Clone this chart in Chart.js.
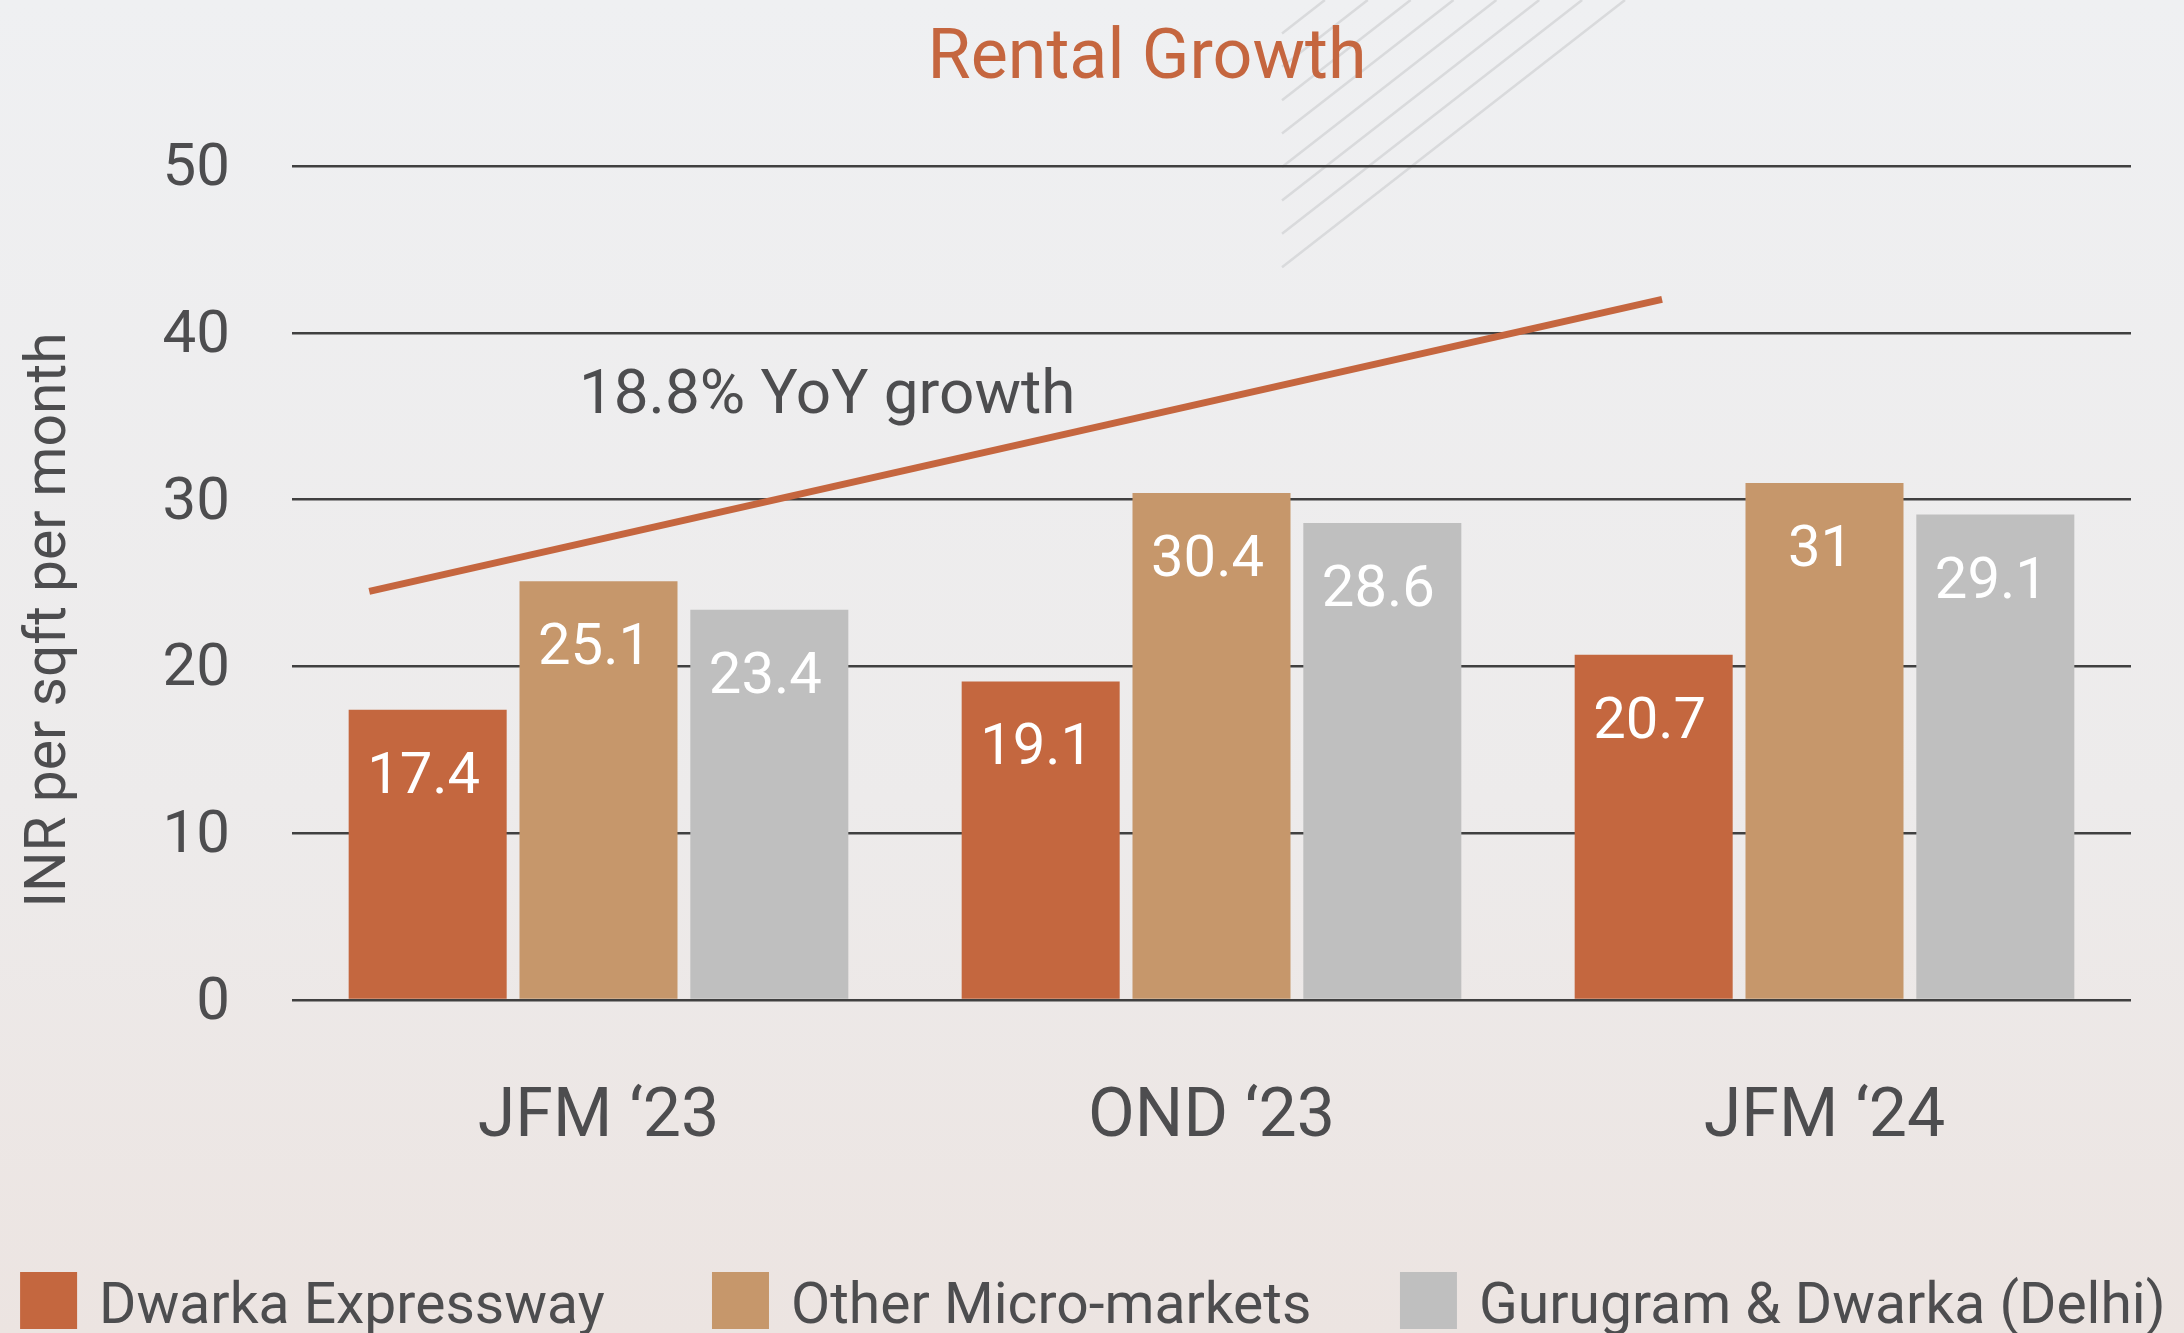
<!DOCTYPE html>
<html>
<head>
<meta charset="utf-8">
<title>Rental Growth</title>
<script src="https://cdn.jsdelivr.net/npm/chart.js@4.4.1/dist/chart.umd.min.js"></script>
<style>
  html, body { margin: 0; padding: 0; background: #EEEEEF; }
  #wrap { width: 2184px; height: 1333px; position: relative; overflow: hidden; }
  canvas { display: block; }
</style>
</head>
<body>
<div id="wrap"><canvas id="chart" width="2184" height="1333"></canvas></div>
<script>
// ---------------- data ----------------
const chartTitle = 'Rental Growth';
const yAxisTitle = 'INR per sqft per month';
const categories = ['JFM \u201823', 'OND \u201823', 'JFM \u201824'];
const seriesNames = ['Dwarka Expressway', 'Other Micro-markets', 'Gurugram & Dwarka (Delhi)'];
const dwarkaExpressway = [17.4, 19.1, 20.7];
const otherMicroMarkets = [25.1, 30.4, 31];
const gurugramDwarkaDelhi = [23.4, 28.6, 29.1];
const yTicks = [0, 10, 20, 30, 40, 50];
const trendX = [-0.374, 1.735];   // position along the category axis (category index units)
const trendY = [24.5, 42.0];
const trendLabel = '18.8% YoY growth';

// ---------------- styles ----------------
const FONT = 'Roboto';
const TEXT = '#4D4D4F';
const ACCENT = '#C5663F';
const barColors = ['#C4673F', '#C6976B', '#BFBFBF'];
Chart.defaults.font.family = FONT;

const seriesValues = [dwarkaExpressway, otherMicroMarkets, gurugramDwarkaDelhi];

const decorPlugin = {
  id: 'decor',
  beforeDraw(chart) {
    const { ctx, width, height } = chart;
    ctx.save();
    const g = ctx.createLinearGradient(0, 0, 0, height);
    g.addColorStop(0, '#EFF0F2');
    g.addColorStop(0.6, '#EDEBEB');
    g.addColorStop(1, '#ECE4E1');
    ctx.fillStyle = g;
    ctx.fillRect(0, 0, width, height);
    // decorative hatch near the title
    ctx.strokeStyle = '#D9DADC';
    ctx.lineWidth = 2.5;
    const x0 = width * 0.587;
    for (let k = 1; k <= 8; k++) {
      const y0 = 33.4 * k;
      ctx.beginPath();
      ctx.moveTo(x0, y0);
      ctx.lineTo(x0 + y0 / 0.779, 0);
      ctx.stroke();
    }
    // title
    ctx.fillStyle = ACCENT;
    ctx.font = '70px ' + FONT;
    ctx.textAlign = 'center';
    ctx.textBaseline = 'alphabetic';
    ctx.fillText(chartTitle, width * 0.5252, 78);
    // y axis title
    ctx.save();
    ctx.translate(65, 620);
    ctx.rotate(-Math.PI / 2);
    ctx.fillStyle = TEXT;
    ctx.font = '57px ' + FONT;
    ctx.textAlign = 'center';
    ctx.fillText(yAxisTitle, 0, 0);
    ctx.restore();
    ctx.restore();
  },
  afterDatasetsDraw(chart) {
    const { ctx } = chart;
    ctx.save();
    // value labels inside bars
    ctx.font = '58px ' + FONT;
    ctx.fillStyle = '#FFFFFF';
    ctx.textAlign = 'center';
    ctx.textBaseline = 'alphabetic';
    chart.data.datasets.forEach((ds, di) => {
      if (ds.type === 'line') return;
      const meta = chart.getDatasetMeta(di);
      meta.data.forEach((el, i) => {
        ctx.fillText(String(seriesValues[di][i]), el.x - 4, el.y + 83);
      });
    });
    // trend annotation
    const x = chart.scales.x, y = chart.scales.y;
    ctx.font = '62px ' + FONT;
    ctx.fillStyle = TEXT;
    ctx.textAlign = 'left';
    ctx.fillText(trendLabel, x.getPixelForValue(-0.032), y.getPixelForValue(35.2));
    // legend
    const legendX = [0.0092, 0.326, 0.641];
    ctx.font = '57px ' + FONT;
    chart.data.datasets.forEach((ds, di) => {
      if (ds.type === 'line') return;
      const bx = chart.width * legendX[di];
      ctx.fillStyle = ds.backgroundColor;
      ctx.fillRect(bx, 1272, 57, 57);
      ctx.fillStyle = TEXT;
      ctx.fillText(ds.label, bx + 79, 1323);
    });
    ctx.restore();
  }
};

const barDataset = (i) => ({
  label: seriesNames[i],
  data: seriesValues[i].map((v, j) => ({ x: j, y: v })),
  backgroundColor: barColors[i],
  order: 1,
  barPercentage: 0.925,
  categoryPercentage: 0.836
});

const ctx = document.getElementById('chart').getContext('2d');
new Chart(ctx, {
  type: 'bar',
  data: {
    datasets: [
      barDataset(0), barDataset(1), barDataset(2),
      {
        type: 'line', label: trendLabel, order: 0,
        data: trendX.map((v, i) => ({ x: v, y: trendY[i] })),
        borderColor: ACCENT, borderWidth: 7, pointRadius: 0, borderCapStyle: 'butt', fill: false, tension: 0
      }
    ]
  },
  options: {
    responsive: false,
    animation: false,
    events: [],
    layout: { padding: { top: 166, right: 53, bottom: 111, left: 0 } },
    plugins: { legend: { display: false }, title: { display: false }, tooltip: { enabled: false } },
    scales: {
      x: {
        type: 'linear',
        min: -0.5, max: 2.5,
        offset: false,
        afterBuildTicks: s => { s.ticks = categories.map((c, i) => ({ value: i })); },
        grid: { display: false, offset: false },
        border: { display: false },
        ticks: { padding: 70, color: TEXT, font: { size: 68 }, autoSkip: false, maxRotation: 0,
                 callback: v => categories[v] },
        afterFit: s => { s.height = 222; }
      },
      y: {
        min: 0, max: 50,
        afterBuildTicks: s => { s.ticks = yTicks.map(v => ({ value: v })); },
        ticks: { padding: 62, color: TEXT, font: { size: 60 }, labelOffset: 4 },
        grid: { color: '#404040', lineWidth: 2.5, drawTicks: false },
        border: { display: false },
        afterFit: s => { s.width = 292; }
      }
    }
  },
  plugins: [decorPlugin]
});
</script>
</body>
</html>
